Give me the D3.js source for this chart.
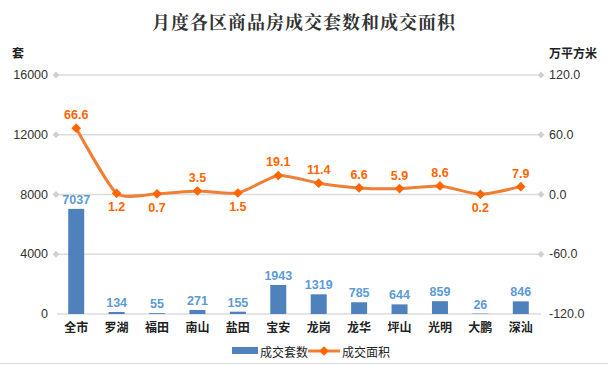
<!DOCTYPE html>
<html>
<head>
<meta charset="utf-8">
<script src="https://cdn.jsdelivr.net/npm/d3@7"></script>
<style>
  body { margin: 0; background: #fff; }
  svg { display: block; font-family: "Noto Sans CJK SC", "Microsoft YaHei", sans-serif; }
</style>
</head>
<body>
<svg id="chart" width="608" height="365"></svg>
<script>
// data
var districts = ["全市", "罗湖", "福田", "南山", "盐田", "宝安", "龙岗", "龙华", "坪山", "光明", "大鹏", "深汕"];
var units = [7037, 134, 55, 271, 155, 1943, 1319, 785, 644, 859, 26, 846];
var area = [66.6, 1.2, 0.7, 3.5, 1.5, 19.1, 11.4, 6.6, 5.9, 8.6, 0.2, 7.9];
// label below the point for these
var areaBelow = [false, true, true, false, true, false, false, false, false, false, true, false];
var leftTicks = [0, 4000, 8000, 12000, 16000];
var rightTicks = [-120, -60, 0, 60, 120];

var svg = d3.select("#chart");
// plot box (note: "top" is taken by window.top)
var plotL = 56, plotR = 541, plotT = 75, plotB = 314;

var x = d3.scaleBand().domain(districts).range([plotL, plotR]).paddingInner(0);
var yL = d3.scaleLinear().domain([0, 16000]).range([plotB, plotT]);
var yR = d3.scaleLinear().domain([-120, 120]).range([plotB, plotT]);

function cx(i) { return x(districts[i]) + x.bandwidth() / 2; }

// title
svg.append("text")
  .text("月度各区商品房成交套数和成交面积")
  .attr("x", 304).attr("y", 29)
  .attr("text-anchor", "middle")
  .attr("font-size", 18)
  .attr("font-weight", "bold")
  .attr("font-family", "'Noto Serif CJK SC', 'Noto Sans CJK SC', serif")
  .attr("letter-spacing", 1)
  .attr("fill", "#333");

// axis titles
svg.append("text").text("套")
  .attr("x", 12).attr("y", 58)
  .attr("font-size", 12).attr("font-weight", "bold").attr("fill", "#222");
svg.append("text").text("万平方米")
  .attr("x", 549).attr("y", 58)
  .attr("font-size", 12).attr("font-weight", "bold").attr("fill", "#222");

// gridlines
svg.selectAll("line.grid")
  .data(leftTicks)
  .enter().append("line")
  .attr("class", "grid")
  .attr("x1", plotL + 1).attr("x2", plotR)
  .attr("y1", function(d){ return yL(d); })
  .attr("y2", function(d){ return yL(d); })
  .attr("stroke", "#dcdcdc")
  .attr("stroke-width", 1.5);

// diamond tick marks at both ends (not on the bottom line)
var diamond = d3.symbol().type(d3.symbolDiamond2).size(30);
leftTicks.filter(function(d){ return d > 0; }).forEach(function(d){
  svg.append("path").attr("d", diamond)
    .attr("transform", "translate(" + plotL + "," + yL(d) + ")")
    .attr("fill", "#d0d0d0");
  svg.append("path").attr("d", diamond)
    .attr("transform", "translate(" + plotR + "," + yL(d) + ")")
    .attr("fill", "#d0d0d0");
});

// left tick labels
svg.selectAll("text.lt")
  .data(leftTicks)
  .enter().append("text")
  .attr("class", "lt")
  .text(function(d){ return d; })
  .attr("x", 48).attr("y", function(d){ return yL(d) + 4; })
  .attr("text-anchor", "end")
  .attr("font-size", 12.5)
  .attr("font-family", "'Liberation Sans', Arial, sans-serif")
  .attr("fill", "#333");

// right tick labels
svg.selectAll("text.rt")
  .data(rightTicks)
  .enter().append("text")
  .attr("class", "rt")
  .text(function(d){ return d.toFixed(1); })
  .attr("x", 549).attr("y", function(d){ return yR(d) + 4; })
  .attr("font-size", 12.5)
  .attr("font-family", "'Liberation Sans', Arial, sans-serif")
  .attr("fill", "#333");

// bars
var barW = 16;
svg.selectAll("rect.bar")
  .data(units)
  .enter().append("rect")
  .attr("class", "bar")
  .attr("x", function(d, i){ return cx(i) - barW / 2; })
  .attr("y", function(d){ return yL(d); })
  .attr("width", barW)
  .attr("height", function(d){ return plotB - yL(d); })
  .attr("fill", "#4f81bd");

svg.selectAll("text.bv")
  .data(units)
  .enter().append("text")
  .attr("class", "bv")
  .text(function(d){ return d; })
  .attr("x", function(d, i){ return cx(i); })
  .attr("y", function(d){ return yL(d) - 5; })
  .attr("text-anchor", "middle")
  .attr("font-size", 12.5).attr("font-weight", "bold")
  .attr("font-family", "'Liberation Sans', Arial, sans-serif")
  .attr("fill", "#5b9bd5");

// category labels
svg.selectAll("text.cat")
  .data(districts)
  .enter().append("text")
  .attr("class", "cat")
  .text(function(d){ return d; })
  .attr("x", function(d, i){ return cx(i); })
  .attr("y", 332)
  .attr("text-anchor", "middle")
  .attr("font-size", 12).attr("font-weight", "bold")
  .attr("fill", "#222");

// area line
var line = d3.line()
  .x(function(d, i){ return cx(i); })
  .y(function(d){ return yR(d); })
  .curve(d3.curveCardinal.tension(0.4));

svg.append("path")
  .datum(area)
  .attr("d", line)
  .attr("fill", "none")
  .attr("stroke", "#f07f36")
  .attr("stroke-width", 3);

var marker = d3.symbol().type(d3.symbolDiamond2).size(60);
svg.selectAll("path.pt")
  .data(area)
  .enter().append("path")
  .attr("class", "pt")
  .attr("d", marker)
  .attr("transform", function(d, i){ return "translate(" + cx(i) + "," + yR(d) + ")"; })
  .attr("fill", "#ff6600");

svg.selectAll("text.av")
  .data(area)
  .enter().append("text")
  .attr("class", "av")
  .text(function(d){ return d.toFixed(1); })
  .attr("x", function(d, i){ return cx(i); })
  .attr("y", function(d, i){ return areaBelow[i] ? yR(d) + 18 : yR(d) - 9; })
  .attr("text-anchor", "middle")
  .attr("font-size", 12.5).attr("font-weight", "bold")
  .attr("font-family", "'Liberation Sans', Arial, sans-serif")
  .attr("fill", "#ff6600");

// legend
var lg = svg.append("g").attr("transform", "translate(0,353)");
lg.append("rect").attr("x", 232).attr("y", -6).attr("width", 26).attr("height", 7).attr("fill", "#4f81bd");
lg.append("text").text("成交套数").attr("x", 260).attr("y", 4).attr("font-size", 12).attr("fill", "#222");
lg.append("line").attr("x1", 308).attr("x2", 340).attr("y1", -2).attr("y2", -2)
  .attr("stroke", "#f07f36").attr("stroke-width", 3);
lg.append("path").attr("d", marker).attr("transform", "translate(324,-2)").attr("fill", "#ff6600");
lg.append("text").text("成交面积").attr("x", 342).attr("y", 4).attr("font-size", 12).attr("fill", "#222");

// bottom border line
svg.append("line").attr("x1", 0).attr("x2", 608).attr("y1", 363.5).attr("y2", 363.5)
  .attr("stroke", "#d9d9d9").attr("stroke-width", 1);
</script>
</body>
</html>
